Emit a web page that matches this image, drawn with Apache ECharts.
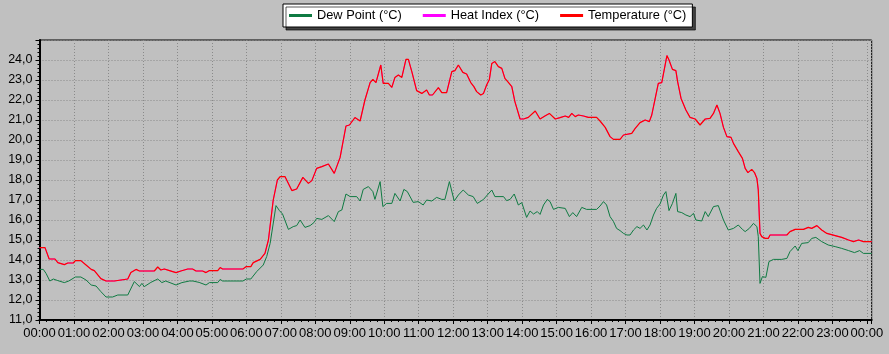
<!DOCTYPE html>
<html>
<head>
<meta charset="utf-8">
<script src="https://cdn.jsdelivr.net/npm/echarts@6/dist/echarts.min.js"></script>
<style>
  html, body { margin: 0; padding: 0; background: #c0c0c0; }
  #chart { width: 889px; height: 354px; }
</style>
</head>
<body>
<div id="chart"></div>
<script>
// times are hours since midnight
const tempTimes = [0, 0.16, 0.28, 0.45, 0.53, 0.72, 0.82, 0.98, 1.04, 1.2, 1.35, 1.5, 1.59, 1.78, 1.93, 2.17, 2.22, 2.56, 2.65, 2.8,
  2.9, 3.33, 3.43, 3.52, 3.62, 3.77, 3.96, 4.1, 4.3, 4.44, 4.54, 4.73, 4.83, 4.93, 5.17, 5.24, 5.31, 5.9, 6.0, 6.13,
  6.2, 6.4, 6.54, 6.64, 6.78, 6.9, 6.98, 7.12, 7.32, 7.46, 7.64, 7.8, 7.9, 8.04, 8.19, 8.38, 8.55, 8.72, 8.89, 8.99,
  9.15, 9.3, 9.44, 9.59, 9.67, 9.76, 9.9, 9.97, 10.12, 10.22, 10.31, 10.41, 10.51, 10.63, 10.7, 10.8, 10.94, 11.09, 11.23, 11.31,
  11.4, 11.57, 11.67, 11.81, 11.96, 12.05, 12.15, 12.28, 12.39, 12.51, 12.6, 12.68, 12.8, 12.88, 12.97, 13.05, 13.12, 13.21, 13.31, 13.41,
  13.5, 13.6, 13.7, 13.79, 13.94, 14.04, 14.18, 14.38, 14.52, 14.66, 14.79, 14.96, 15.1, 15.25, 15.35, 15.44, 15.54, 15.63, 15.78, 15.92,
  16.16, 16.26, 16.41, 16.55, 16.65, 16.84, 16.94, 17.18, 17.28, 17.42, 17.57, 17.69, 17.76, 17.86, 17.95, 18.05, 18.2, 18.26, 18.36, 18.46,
  18.51, 18.61, 18.75, 18.87, 19.02, 19.16, 19.31, 19.45, 19.55, 19.65, 19.74, 19.84, 19.94, 20.06, 20.13, 20.27, 20.39, 20.47, 20.55, 20.66,
  20.74, 20.81, 20.85, 20.9, 20.95, 21.05, 21.14, 21.19, 21.68, 21.77, 21.92, 22.16, 22.3, 22.4, 22.55, 22.69, 22.84, 23.08, 23.27, 23.47,
  23.61, 23.76, 23.9, 24.14];
const tempValues = [14.62, 14.62, 14.05, 14.05, 13.87, 13.77, 13.85, 13.85, 13.97, 13.97, 13.75, 13.53, 13.47, 13.07, 12.95, 12.95, 13.05, 13.05, 13.37, 13.53,
  13.45, 13.45, 13.65, 13.5, 13.55, 13.47, 13.37, 13.45, 13.55, 13.55, 13.45, 13.45, 13.37, 13.47, 13.47, 13.62, 13.55, 13.55, 13.67, 13.67,
  13.87, 14.03, 14.33, 15.0, 17.0, 18.0, 18.17, 18.17, 17.47, 17.55, 18.13, 17.83, 17.97, 18.58, 18.67, 18.8, 18.33, 19.13, 20.7, 20.75,
  21.12, 20.95, 22.0, 22.87, 23.03, 22.87, 23.75, 22.83, 22.83, 22.63, 23.13, 23.25, 23.13, 24.03, 24.03, 23.42, 22.47, 22.33, 22.5, 22.25,
  22.25, 22.62, 22.37, 22.37, 23.42, 23.47, 23.75, 23.38, 23.3, 22.87, 22.67, 22.42, 22.25, 22.33, 22.75, 23.03, 23.83, 23.92, 23.67, 23.58,
  23.08, 22.88, 22.67, 21.92, 21.05, 21.05, 21.13, 21.45, 21.05, 21.2, 21.33, 21.05, 21.12, 21.2, 21.13, 21.33, 21.17, 21.25, 21.2, 21.13,
  21.13, 20.95, 20.63, 20.17, 20.03, 20.03, 20.25, 20.33, 20.58, 20.87, 21.0, 20.92, 21.25, 22.08, 22.83, 22.87, 24.22, 24.0, 23.53, 23.47,
  22.92, 22.08, 21.5, 21.13, 21.05, 20.75, 21.05, 21.08, 21.33, 21.75, 21.33, 20.63, 20.17, 20.13, 19.83, 19.42, 19.08, 18.58, 18.37, 18.53,
  18.37, 18.08, 17.5, 15.33, 15.17, 15.08, 15.08, 15.25, 15.25, 15.42, 15.53, 15.53, 15.63, 15.58, 15.72, 15.5, 15.33, 15.22, 15.13, 15.0,
  14.92, 15.0, 14.92, 14.92];

const dewTimes = [0, 0.11, 0.19, 0.3, 0.4, 0.53, 0.72, 0.85, 1.04, 1.2, 1.35, 1.5, 1.64, 1.78, 1.93, 2.12, 2.27, 2.56, 2.75, 2.8,
  2.9, 2.97, 3.04, 3.23, 3.43, 3.55, 3.66, 3.96, 4.13, 4.35, 4.45, 4.63, 4.83, 4.93, 5.17, 5.24, 5.31, 5.9, 6.0, 6.13,
  6.3, 6.49, 6.59, 6.69, 6.86, 6.96, 7.05, 7.22, 7.36, 7.46, 7.56, 7.7, 7.85, 7.96, 8.04, 8.19, 8.38, 8.55, 8.67, 8.77,
  8.89, 9.01, 9.2, 9.3, 9.39, 9.54, 9.67, 9.73, 9.88, 9.96, 10.07, 10.22, 10.31, 10.46, 10.57, 10.67, 10.84, 10.99, 11.13, 11.23,
  11.38, 11.52, 11.67, 11.76, 11.89, 12.03, 12.15, 12.29, 12.44, 12.58, 12.7, 12.88, 12.99, 13.12, 13.21, 13.46, 13.55, 13.65, 13.77, 13.89,
  13.99, 14.13, 14.23, 14.33, 14.44, 14.52, 14.62, 14.73, 14.81, 14.91, 15.05, 15.25, 15.37, 15.47, 15.58, 15.73, 15.87, 16.16, 16.26, 16.36,
  16.45, 16.55, 16.65, 16.74, 16.84, 16.94, 17.04, 17.13, 17.23, 17.33, 17.42, 17.52, 17.62, 17.71, 17.81, 17.9, 18.0, 18.1, 18.17, 18.26,
  18.36, 18.46, 18.51, 18.63, 18.75, 18.87, 18.97, 19.04, 19.21, 19.31, 19.4, 19.55, 19.69, 19.84, 19.98, 20.13, 20.27, 20.39, 20.47, 20.59,
  20.71, 20.81, 20.85, 20.9, 20.97, 21.07, 21.16, 21.29, 21.53, 21.68, 21.77, 21.92, 22.0, 22.11, 22.3, 22.4, 22.52, 22.69, 22.88, 23.08,
  23.27, 23.47, 23.64, 23.79, 23.9, 24.14];
const dewValues = [13.53, 13.53, 13.33, 12.95, 13.05, 12.97, 12.87, 12.95, 13.15, 13.15, 13.0, 12.75, 12.7, 12.42, 12.15, 12.15, 12.25, 12.25, 12.92, 12.95,
  12.67, 12.83, 12.67, 12.88, 13.05, 12.87, 12.95, 12.75, 12.87, 12.95, 12.95, 12.88, 12.75, 12.87, 12.87, 13.03, 12.95, 12.95, 13.05, 13.05,
  13.42, 13.75, 14.17, 14.83, 16.72, 16.47, 16.3, 15.53, 15.67, 15.72, 16.0, 15.63, 15.72, 15.87, 16.08, 16.03, 16.22, 15.92, 16.42, 16.5,
  17.3, 17.17, 17.17, 16.95, 17.53, 17.67, 17.42, 17.03, 17.92, 16.67, 16.83, 16.83, 17.33, 16.95, 17.53, 17.42, 16.88, 16.92, 16.75, 17.0,
  16.95, 17.13, 17.03, 17.03, 17.92, 16.95, 17.25, 17.5, 17.25, 17.17, 16.83, 17.03, 17.25, 17.5, 17.17, 17.17, 16.97, 17.03, 17.3, 16.75,
  16.87, 16.13, 16.45, 16.3, 16.42, 16.28, 16.75, 17.03, 16.92, 16.53, 16.63, 16.58, 16.17, 16.37, 16.17, 16.63, 16.53, 16.53, 16.7, 16.92,
  16.75, 16.17, 15.92, 15.58, 15.47, 15.33, 15.25, 15.25, 15.5, 15.67, 15.58, 15.75, 15.5, 15.75, 16.25, 16.58, 16.8, 17.25, 17.42, 16.47,
  16.83, 17.33, 16.42, 16.37, 16.25, 16.17, 16.33, 16.0, 15.95, 16.42, 16.17, 16.67, 16.72, 16.0, 15.5, 15.58, 15.75, 15.53, 15.42, 15.58,
  15.83, 15.67, 15.17, 12.83, 13.17, 13.13, 13.92, 14.03, 14.03, 14.08, 14.42, 14.7, 14.47, 14.83, 14.87, 15.08, 15.13, 14.92, 14.75, 14.67,
  14.58, 14.47, 14.37, 14.47, 14.33, 14.33];

// heat index is hidden under the temperature line all day (same readings)
const heatIndexValues = tempValues;

const seriesNames = ['Dew Point (°C)', 'Heat Index (°C)', 'Temperature (°C)'];

function pairs(times, values) {
  return times.map((t, i) => [t, values[i]]);
}

const chart = echarts.init(document.getElementById('chart'));
chart.setOption({
  animation: false,
  backgroundColor: '#c0c0c0',
  color: ['#0f7a42', '#ff00ff', '#ff0000'],
  textStyle: { fontFamily: 'Liberation Sans, Arial, sans-serif', color: '#000' },
  legend: {
    data: seriesNames,
    left: 283,
    top: 4,
    padding: [5, 6, 5, 6],
    itemGap: 21,
    itemWidth: 23,
    itemHeight: 3,
    icon: 'rect',
    backgroundColor: '#ffffff',
    borderColor: '#000',
    borderWidth: 1,
    shadowColor: 'rgba(0,0,0,0.65)',
    shadowBlur: 0,
    shadowOffsetX: 3,
    shadowOffsetY: 3,
    textStyle: { fontSize: 12.8, color: '#000' }
  },
  grid: {
    left: 39.5,
    right: 17.3,
    top: 40,
    bottom: 34,
    show: true,
    borderColor: '#000',
    borderWidth: 1,
    backgroundColor: '#c0c0c0'
  },
  xAxis: {
    type: 'value',
    min: 0,
    max: 24.14,
    interval: 1,
    axisLine: { lineStyle: { color: '#000', width: 2 } },
    axisTick: { length: 4, lineStyle: { color: '#000' } },
    minorTick: { show: true, splitNumber: 5, length: 2, lineStyle: { color: '#000' } },
    axisLabel: {
      margin: 7,
      fontSize: 13,
      color: '#000',
      showMaxLabel: false,
      formatter: function (v) {
        if (Math.abs(v - Math.round(v)) > 0.001) return '';
        const h = Math.round(v) % 24;
        return (h < 10 ? '0' : '') + h + ':00';
      }
    },
    splitLine: { show: true, lineStyle: { color: '#8a8a8a', type: [1, 2] } }
  },
  yAxis: {
    type: 'value',
    min: 11,
    max: 25,
    interval: 1,
    axisLine: { show: true, lineStyle: { color: '#000', width: 2 } },
    axisTick: { show: true, length: 4, lineStyle: { color: '#000' } },
    minorTick: { show: true, splitNumber: 5, length: 2, lineStyle: { color: '#000' } },
    axisLabel: {
      margin: 7,
      fontSize: 12.5,
      color: '#000',
      formatter: function (v) {
        if (v >= 25) return '';
        return v.toFixed(1).replace('.', ',');
      }
    },
    splitLine: { show: true, lineStyle: { color: '#8a8a8a', type: [1, 2] } }
  },
  series: [
    {
      name: seriesNames[0],
      type: 'line',
      showSymbol: false,
      lineStyle: { width: 1 },
      data: pairs(dewTimes, dewValues)
    },
    {
      name: seriesNames[1],
      type: 'line',
      showSymbol: false,
      lineStyle: { width: 1 },
      data: pairs(tempTimes, heatIndexValues)
    },
    {
      name: seriesNames[2],
      type: 'line',
      showSymbol: false,
      lineStyle: { width: 1.2, color: '#ff0000' },
      data: pairs(tempTimes, tempValues)
    }
  ]
});
</script>
</body>
</html>
